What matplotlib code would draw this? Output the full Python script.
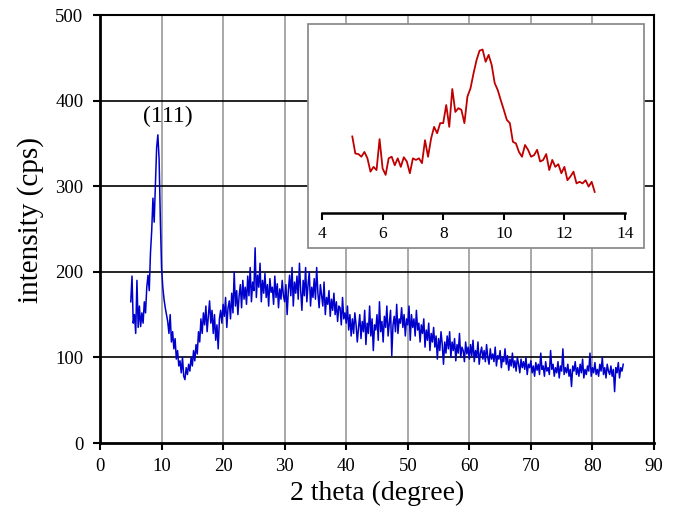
import numpy as np
import matplotlib
matplotlib.use("Agg")
import matplotlib.pyplot as plt
from matplotlib.patches import Rectangle

plt.rcParams['font.family'] = ['Liberation Serif', 'DejaVu Serif']

# ---- main XRD pattern: 2theta from 5 to 85, step 0.2 ----
two_theta_start = 5.0
two_theta_step = 0.2
intensity = [
    165, 195, 140, 150, 128,   190, 135, 160, 136, 152,
    140, 165, 152, 182, 196,   178, 222, 248, 286, 258,
    300, 345, 360, 332, 262,   205, 182, 168, 158, 150,
    142, 128, 150, 118, 130,   110, 122, 98, 108, 90,
    96, 82, 100, 78, 74,       88, 80, 92, 84, 100,
    90, 108, 96, 115, 104,     130, 118, 145, 128, 152,
    138, 160, 130, 148, 166,   140, 155, 128, 150, 120,
    138, 110, 145, 155, 140,   162, 148, 170, 135, 158,
    166, 145, 175, 152, 200,   160, 178, 150, 172, 185,
    158, 190, 168, 182, 162,   195, 172, 205, 165, 188,
    178, 228, 170, 196, 182,   210, 165, 190, 175, 198,
    170, 185, 160, 192, 176,   182, 162, 195, 170, 186,
    158, 180, 168, 190, 172,   165, 185, 150, 178, 196,
    172, 205, 160, 188, 175,   195, 168, 210, 178, 155,
    190, 172, 205, 165, 185,   200, 160, 182, 170, 192,
    168, 205, 175, 158, 185,   172, 160, 188, 150, 170,
    162, 178, 148, 168, 155,   175, 150, 165, 142, 160,
    158, 138, 170, 145, 152,   140, 160, 132, 150, 125,
    145, 128, 152, 138, 118,   135, 150, 122, 142, 130,
    155, 115, 140, 128, 160,   125, 145, 108, 138, 132,
    150, 120, 165, 130, 142,   118, 148, 135, 160, 125,
    140, 155, 102, 138, 148,   130, 162, 128, 145, 140,
    158, 135, 150, 125, 145,   138, 160, 120, 150, 135,
    145, 125, 155, 132, 140,   118, 138, 128, 145, 112,
    132, 120, 140, 108, 128,   118, 135, 112, 125, 98,
    122, 108, 130, 115, 92,    118, 105, 125, 110, 130,
    100, 118, 108, 122, 96,    115, 105, 128, 100, 112,
    108, 95, 118, 104, 112,    98, 115, 102, 120, 95,
    108, 100, 118, 92, 105,    112, 98, 108, 95, 115,
    100, 92, 110, 98, 104,     95, 112, 90, 102, 98,
    108, 88, 100, 95, 110,     92, 102, 85, 98, 90,
    105, 88, 96, 84, 100,      92, 82, 98, 88, 95,
    86, 100, 80, 92, 88,       96, 82, 90, 78, 94,
    85, 92, 80, 105, 86,       90, 78, 95, 84, 88,
    80, 108, 86, 92, 78,       88, 82, 95, 76, 90,
    84, 110, 80, 88, 82,       92, 78, 86, 66, 90,
    84, 95, 80, 88, 78,        92, 82, 98, 76, 86,
    80, 90, 84, 105, 78,       88, 82, 94, 80, 86,
    78, 92, 84, 100, 80,       88, 76, 92, 84, 80,
    90, 78, 86, 60, 88,        82, 94, 76, 88, 84,
    92,
]
two_theta = two_theta_start + two_theta_step * np.arange(len(intensity))

# ---- inset: zoom of the (111) region, 2theta from 5 to 13, step 0.1 ----
inset_start = 5.0
inset_step = 0.1
inset_intensity = [
    196, 164, 163, 158, 167, 155, 130, 139, 133, 191,
    136, 124, 155, 158, 142, 155, 139, 157, 149, 127,
    155, 152, 155, 146, 189, 158, 192, 214, 202, 221,
    221, 255, 214, 285, 242, 249, 246, 221, 271, 286,
    314, 339, 357, 359, 336, 349, 330, 296, 283, 264,
    246, 227, 221, 186, 183, 167, 158, 180, 171, 158,
    161, 171, 149, 152, 163, 133, 152, 139, 144, 127,
    139, 114, 121, 130, 108, 111, 108, 114, 102, 111,
    92,
]
inset_theta = inset_start + inset_step * np.arange(len(inset_intensity))

x_ticks = [0, 10, 20, 30, 40, 50, 60, 70, 80, 90]
y_ticks = [0, 100, 200, 300, 400, 500]
inset_ticks = [4, 6, 8, 10, 12, 14]

W, H = 678, 515
fig = plt.figure(figsize=(W / 100, H / 100), dpi=100)

ax = fig.add_axes([100 / W, (H - 443) / H, 554 / W, 428 / H])
ax.plot(two_theta, intensity, color='#0000CC', lw=1.1, zorder=3)
ax.set_xlim(0, 90)
ax.set_ylim(0, 500)
ax.set_xticks(x_ticks)
ax.set_yticks(y_ticks)
for v in x_ticks[1:-1]:
    ax.axvline(v, color='#9a9a9a', lw=1.2, zorder=1)
for v in y_ticks[1:-1]:
    ax.axhline(v, color='black', lw=1.2, zorder=1)
for s in ['left', 'bottom']:
    ax.spines[s].set_linewidth(2.0)
for s in ['top', 'right']:
    ax.spines[s].set_linewidth(1.5)
ax.tick_params(direction='out', length=5, width=1.5, labelsize=13.5, colors='black')
ax.tick_params(axis='y', pad=7)
ax.tick_params(axis='x', pad=6)
ax.set_xlabel('2 theta (degree)', fontsize=20)
ax.set_ylabel('intensity (cps)', fontsize=21)
ax.xaxis.set_label_coords(0.5, -0.117)
ax.yaxis.set_label_coords(-0.126, 0.52)
ax.xaxis.label.set_va('center')
ax.yaxis.label.set_va('center')
ax.text(11.0, 382, '(111)', fontsize=17, ha='center', va='center')

# inset frame
frame = Rectangle((308 / W, (H - 248) / H), 336 / W, 224 / H, transform=fig.transFigure,
                  facecolor='white', edgecolor='#8c8c8c', lw=1.3, zorder=5)
fig.patches.append(frame)

axi = fig.add_axes([322 / W, (H - 213) / H, 303 / W, 180 / H])
axi.set_zorder(6)
axi.patch.set_alpha(0)
axi.plot(inset_theta, inset_intensity, color='#C00000', lw=1.3)
axi.set_xlim(4, 14)
axi.set_ylim(52.5, 390)
axi.set_xticks(inset_ticks)
axi.set_yticks([])
for s in ['left', 'top', 'right']:
    axi.spines[s].set_visible(False)
axi.spines['bottom'].set_linewidth(1.8)
axi.tick_params(axis='x', direction='out', length=5, width=1.5, labelsize=12.5, pad=4)

fig.savefig('out.png', dpi=100)
